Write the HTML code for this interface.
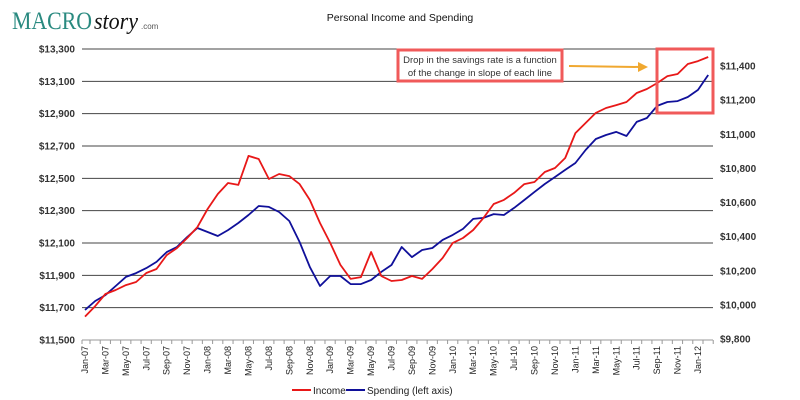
<!DOCTYPE html>
<html><head><meta charset="utf-8"><style>
body{margin:0;background:#fff;width:800px;height:400px;overflow:hidden;font-family:"Liberation Sans",sans-serif}
svg{display:block}
</style></head><body>
<svg id="chart" width="800" height="400" xmlns="http://www.w3.org/2000/svg">
<g>
<text x="12" y="29" font-family="Liberation Serif,serif" font-size="25" fill="#2a8a80" textLength="80" lengthAdjust="spacingAndGlyphs">MACRO</text>
<text x="94" y="29" font-family="Liberation Serif,serif" font-style="italic" font-size="24" fill="#111" textLength="44" lengthAdjust="spacingAndGlyphs">story</text>
<text x="141" y="29" font-size="8" fill="#555">.com</text>
</g>
<text x="400" y="21" text-anchor="middle" font-size="10.5" fill="#111">Personal Income and Spending</text>
<g id="grid"></g><g id="lines"></g><g id="axes"></g>
<g>
<rect x="398" y="50" width="164" height="31" fill="#fff" stroke="#f05a5a" stroke-width="3"/>
<text x="480" y="63" text-anchor="middle" font-size="9.5" fill="#333">Drop in the savings rate is a function</text>
<text x="480" y="76" text-anchor="middle" font-size="9.5" fill="#333">of the change in slope of each line</text>
<line x1="569" y1="66" x2="640" y2="67" stroke="#f0a830" stroke-width="2"/>
<polygon points="648,67 638,62 638,72" fill="#f0a830"/>
<rect x="657" y="49" width="56" height="64" fill="none" stroke="#f05a5a" stroke-width="3"/>
</g>
<g>
<line x1="292" y1="390" x2="311" y2="390" stroke="#e81818" stroke-width="2"/>
<text x="313" y="394" font-size="10" fill="#222">Income</text>
<line x1="346" y1="390" x2="365" y2="390" stroke="#10109a" stroke-width="2"/>
<text x="367" y="394" font-size="10" fill="#222">Spending (left axis)</text>
</g>
</svg>
<script>
const months=["Jan","Feb","Mar","Apr","May","Jun","Jul","Aug","Sep","Oct","Nov","Dec"];
const categories=[];
for(let y=7;y<=12;y++)for(let m=0;m<12;m++){if(y===12&&m>1)break;categories.push(months[m]+"-"+(y<10?"0"+y:y));}
const spending=[11686,11741,11778,11834,11890,11914,11945,11983,12044,12075,12137,12193,12168,12143,12180,12224,12273,12329,12323,12292,12236,12106,11952,11834,11896,11896,11846,11846,11871,11921,11964,12075,12013,12057,12069,12119,12150,12187,12249,12255,12279,12273,12317,12366,12416,12465,12508,12552,12595,12675,12743,12768,12787,12762,12849,12873,12948,12972,12978,13003,13047,13139];
const income=[9931,9993,10064,10087,10116,10134,10187,10210,10292,10333,10392,10456,10562,10650,10714,10703,10873,10855,10738,10767,10755,10708,10615,10480,10363,10234,10152,10163,10310,10169,10140,10146,10169,10152,10210,10275,10363,10392,10439,10509,10591,10615,10656,10708,10720,10779,10802,10861,11007,11066,11125,11154,11171,11189,11242,11265,11300,11341,11353,11412,11429,11453];
const leftTicks=[11500,11700,11900,12100,12300,12500,12700,12900,13100,13300];
const rightTicks=[9800,10000,10200,10400,10600,10800,11000,11200,11400];
const NS="http://www.w3.org/2000/svg";
const X0=82,X1=713;
const xPos=i=>85+i*(613/60);
const yL=v=>340-(v-11500)*(291/1800);
const yR=v=>339-(v-9800)*(273/1600);
function mk(t,a,p){const e=document.createElementNS(NS,t);for(const k in a)e.setAttribute(k,a[k]);p.appendChild(e);return e;}
const grid=document.getElementById('grid'),axes=document.getElementById('axes'),lines=document.getElementById('lines');
leftTicks.forEach(v=>{
 const y=yL(v);
 const l=mk('line',{x1:X0,x2:X1,y1:y,y2:y,stroke:v===11500?'#999':'#444','stroke-width':1},grid);
 
 
 const t=mk('text',{x:75,y:y+3.5,'text-anchor':'end','font-size':'10','font-weight':'bold',fill:'#333'},axes);
 t.textContent='$'+v.toLocaleString('en-US');
 
 
});
rightTicks.forEach(v=>{
 const y=yR(v);
 const t=mk('text',{x:720,y:y+3.5,'font-size':'10','font-weight':'bold',fill:'#333'},axes);
 t.textContent='$'+v.toLocaleString('en-US');
 
 
});
mk('line',{x1:X0,x2:X0,y1:340,y2:344,stroke:'#999'},axes);
categories.forEach((c,i)=>{
 const x=xPos(i);
 if(i%2===0){
  const t=mk('text',{transform:`translate(${x+3},346) rotate(-90)`,'text-anchor':'end','font-size':'9',fill:'#222'},axes);
  t.textContent=c;
  
  
 }
 mk('line',{x1:x+5,x2:x+5,y1:340,y2:344,stroke:'#999'},axes);
});
function path(data,yf,color,name){
 const d=data.map((v,i)=>(i?'L':'M')+xPos(i).toFixed(1)+','+yf(v).toFixed(1)).join('');
 const p=mk('path',{d:d,fill:'none',stroke:color,'stroke-width':1.8,'stroke-linejoin':'round'},lines);
 
 
}
path(spending,yL,'#10109a','spending-line');
path(income,yR,'#e81818','income-line');
</script>
</body></html>
